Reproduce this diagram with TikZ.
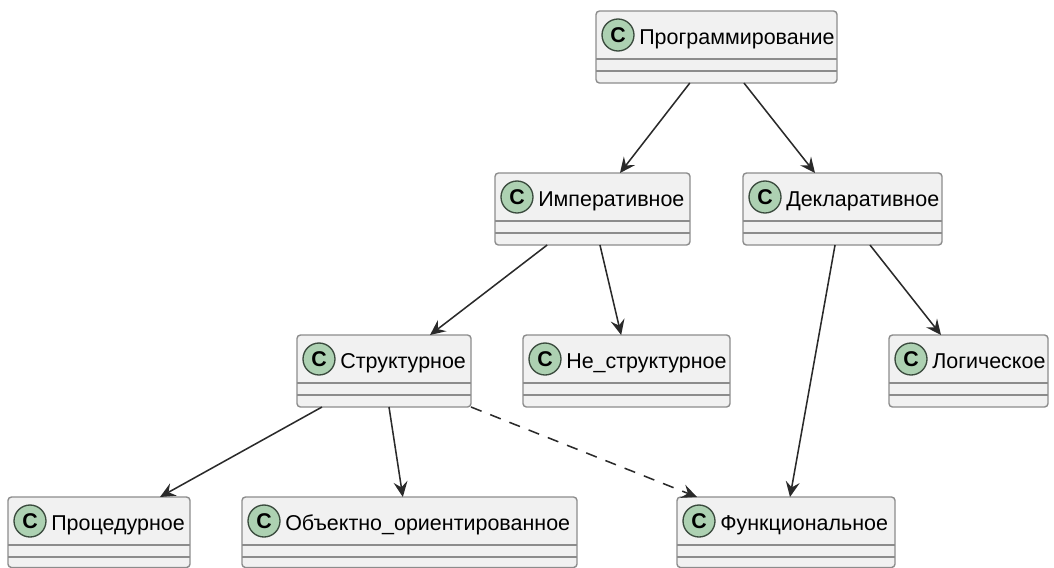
\documentclass[tikz,border=0pt]{standalone}
\usepackage{fontspec}
\setmainfont{Liberation Sans}
\usetikzlibrary{arrows.meta}
\definecolor{boxfill}{HTML}{F1F1F1}
\definecolor{boxline}{HTML}{8C8C8C}
\definecolor{spotfill}{HTML}{ADD1B2}
\definecolor{spotline}{HTML}{3A4A3D}
\definecolor{edgeline}{HTML}{2A2A2A}
\tikzset{
  x=0.75pt,y=-0.75pt,
  classbox/.style={draw=boxline,fill=boxfill,line width=1.05pt,rounded corners=2.6pt,inner sep=0pt,outer sep=0pt},
  spot/.style={circle,draw=spotline,fill=spotfill,line width=1pt,minimum size=24pt,inner sep=0pt,font=\fontsize{16}{16}\selectfont\bfseries,text=black},
  classname/.style={anchor=base west,inner sep=0pt,font=\fontsize{16.1}{18}\selectfont,text=black},
  divider/.style={draw=boxline,line width=1.05pt},
  link/.style={draw=edgeline,line width=1.15pt,-{Stealth[length=11.5pt,width=10.5pt,inset=4.2pt]}},
  dashlink/.style={link,dash pattern=on 8.5pt off 7pt},
}
% name, left, top, right, bottom, text
\newcommand{\classnode}[6]{%
  \node[classbox,minimum width={(#4-#2)*0.75pt},minimum height={(#5-#3)*0.75pt}] (#1) at ({(#2+#4)/2},{(#3+#5)/2}) {};
  \node[spot] (#1c) at ({#2+22},{#3+24}) {C};
  \node[classname] (#1t) at ({#2+43},{#3+33}) {#6};
  \draw[divider] (#1.west |- 0,{#3+48}) -- (#1.east |- 0,{#3+48});
  \draw[divider] (#1.west |- 0,{#3+60}) -- (#1.east |- 0,{#3+60});
}
\begin{document}
\begin{tikzpicture}
\useasboundingbox (0,0) rectangle (1054,568);
\classnode{prog}{596}{11}{837}{83}{Программирование}
\classnode{imp}{495}{173}{690}{245}{Императивное}
\classnode{decl}{743}{173}{942}{245}{Декларативное}
\classnode{struct}{297}{335}{471}{407}{Структурное}
\classnode{nestr}{523}{335}{730}{407}{Не\_структурное}
\classnode{logic}{889}{335}{1048}{407}{Логическое}
\classnode{proc}{8}{497}{190}{567.5}{Процедурное}
\classnode{obj}{242}{497}{577}{567.5}{Объектно\_ориентированное}
\classnode{func}{677}{497}{895}{567.5}{Функциональное}
\draw[link] ([xshift=-20pt]prog.south) -- ([xshift=20.6pt]imp.north);
\draw[link] ([xshift=20.6pt]prog.south) -- ([xshift=-20.6pt]decl.north);
\draw[link] ([xshift=-34pt]imp.south) -- ([xshift=34.5pt]struct.north);
\draw[link] ([xshift=5.6pt]imp.south) -- ([xshift=-4pt]nestr.north);
\draw[link] ([xshift=-5.6pt]decl.south) -- ([xshift=3pt]func.north);
\draw[link] ([xshift=20.6pt]decl.south) -- ([xshift=-20.6pt]logic.north);
\draw[link] ([xshift=-46.5pt]struct.south) -- ([xshift=45.75pt]proc.north);
\draw[link] ([xshift=3.75pt]struct.south) -- ([xshift=-5pt]obj.north);
\draw[dashlink] (struct.south east) -- ([xshift=-66.75pt]func.north);
\end{tikzpicture}
\end{document}
